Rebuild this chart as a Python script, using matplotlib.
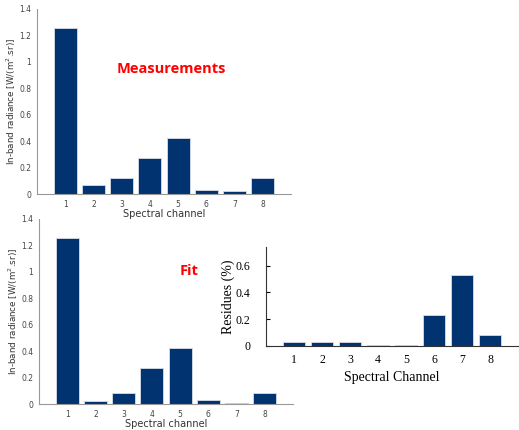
import numpy as np
import matplotlib.pyplot as plt

# channel numbers and read-off values
channels = [1, 2, 3, 4, 5, 6, 7, 8]
measured = [1.26, 0.065, 0.12, 0.275, 0.425, 0.03, 0.025, 0.12]
fitted = [1.26, 0.025, 0.08, 0.275, 0.425, 0.03, 0.008, 0.08]
residues = [0.03, 0.028, 0.028, 0.01, 0.01, 0.23, 0.53, 0.085]

navy = '#00336f'
W, H = 519, 430

fig = plt.figure(figsize=(W / 100, H / 100), dpi=100)


def box(l, t, r, b):
    return [l / W, 1 - b / H, (r - l) / W, (b - t) / H]


def radiance_panel(rect, vals):
    ax = fig.add_axes(rect)
    ax.bar(channels, vals, width=0.82, color=navy, edgecolor='#d8dde6', linewidth=0.6)
    ax.set_xlim(0, 9)
    ax.set_ylim(0, 1.4)
    ax.set_xticks(channels)
    ax.set_yticks(np.arange(0, 1.41, 0.2))
    ax.set_yticklabels(['0', '0.2', '0.4', '0.6', '0.8', '1', '1.2', '1.4'])
    for s in ['top', 'right']:
        ax.spines[s].set_visible(False)
    for s in ['left', 'bottom']:
        ax.spines[s].set_color('#999999')
        ax.spines[s].set_linewidth(0.8)
    ax.tick_params(length=0, labelsize=5.5, colors='#444444', pad=4)
    ax.set_xlabel('Spectral channel', fontsize=7, color='#333333', labelpad=0)
    ax.set_ylabel('In-band radiance [W/(m$^2$.sr)]', fontsize=6.3, color='#333333', labelpad=1)
    return ax


ax1 = radiance_panel(box(37, 9, 291, 194), measured)
ax2 = radiance_panel(box(39, 219, 293, 404), fitted)

fig.text(171 / W, 1 - 69 / H, 'Measurements', color='red', fontsize=10.5,
         fontweight='bold', family='Open Sans', ha='center', va='center')
fig.text(189 / W, 1 - 271 / H, 'Fit', color='red', fontsize=10.5,
         fontweight='bold', family='Open Sans', ha='center', va='center')

# residues panel
ax3 = fig.add_axes(box(266, 247, 518, 346))
ax3.bar(channels, residues, width=0.82, color=navy, edgecolor='#d8dde6', linewidth=0.6)
ax3.set_xlim(0, 9)
ax3.set_ylim(0, 0.74)
ax3.set_xticks(channels)
ax3.set_yticks([0, 0.2, 0.4, 0.6])
ax3.set_yticklabels(['0', '0.2', '0.4', '0.6'])
for s in ['top', 'right']:
    ax3.spines[s].set_visible(False)
for s in ['left', 'bottom']:
    ax3.spines[s].set_color('#333333')
    ax3.spines[s].set_linewidth(0.8)
ax3.tick_params(axis='y', direction='in', length=3, labelsize=8.5, pad=11)
ax3.tick_params(axis='x', length=0, labelsize=8.5, pad=6)
for lab in ax3.get_xticklabels() + ax3.get_yticklabels():
    lab.set_family('Liberation Serif')
ax3.set_xlabel('Spectral Channel', fontsize=10, family='Liberation Serif', labelpad=3)
ax3.set_ylabel('Residues (%)', fontsize=10, family='Liberation Serif', labelpad=1)

fig.savefig('out.png', dpi=100)
